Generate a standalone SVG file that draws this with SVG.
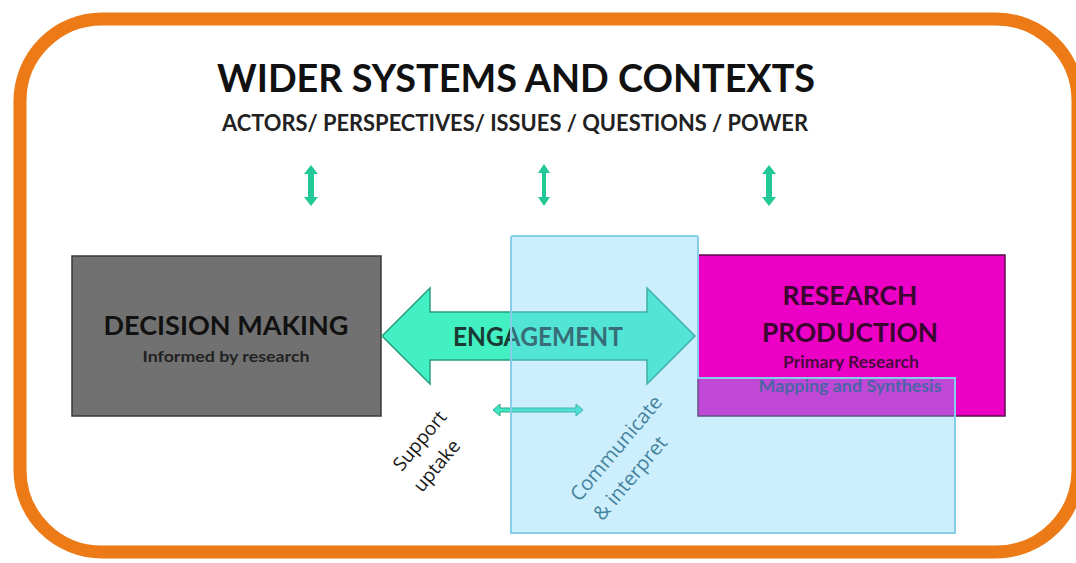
<svg xmlns="http://www.w3.org/2000/svg" width="1076" height="563" viewBox="0 0 1076 563">
<style>
.t{font-family:Lato,"Open Sans","Liberation Sans",sans-serif;font-weight:bold;text-anchor:middle}
.va{fill:#22c896}
.lbl{font-family:"Open Sans",Lato,"Liberation Sans",sans-serif;text-anchor:middle;font-size:19px}
</style>
<rect width="1076" height="563" fill="#ffffff"/>
<g id="frame">
<rect x="20" y="19" width="1058" height="533" rx="82" ry="82" fill="#ffffff" stroke="#ec7a16" stroke-width="13"/>
</g>
<g id="title">
<text class="t" x="516" y="92" font-size="38" fill="#111" textLength="598" lengthAdjust="spacingAndGlyphs">WIDER SYSTEMS AND CONTEXTS</text>
<text class="t" x="515" y="131" font-size="22" fill="#222" textLength="586" lengthAdjust="spacingAndGlyphs">ACTORS/ PERSPECTIVES/ ISSUES / QUESTIONS / POWER</text>
</g>
<g id="connectors">
<path class="va" d="M311,165 L318,174 L314,174 L314,197 L318,197 L311,206 L304,197 L308,197 L308,174 L304,174 Z"/>
<path class="va" d="M544,164 L550,173 L546,173 L546,197 L550,197 L544,206 L538,197 L542,197 L542,173 L538,173 Z"/>
<path class="va" d="M769,165 L776,174 L772,174 L772,197 L776,197 L769,206 L762,197 L766,197 L766,174 L762,174 Z"/>
<path d="M493,410 L500,404 L500,408 L576,408 L576,404 L583,410 L576,416 L576,412 L500,412 L500,416 Z" fill="#40e8c4" stroke="#2aa88a" stroke-width="1"/>
</g>
<g id="decision">
<rect x="72" y="256" width="309" height="160" fill="#717171" stroke="#3a3a3a" stroke-width="1.5"/>
<text class="t" x="226" y="335" font-size="27" fill="#111" textLength="245" lengthAdjust="spacingAndGlyphs">DECISION MAKING</text>
<text class="t" x="226" y="362" font-size="16" fill="#222" textLength="167" lengthAdjust="spacingAndGlyphs">Informed by research</text>
</g>
<g id="engagement">
<path d="M382,336 L430,288 L430,312 L647,312 L647,288 L695,336 L647,384 L647,360 L430,360 L430,384 Z" fill="#42f0c2" stroke="#2a9d80" stroke-width="1.5"/>
<text class="t" x="538" y="346" font-size="26" fill="#1a3a34" textLength="170" lengthAdjust="spacingAndGlyphs">ENGAGEMENT</text>
</g>
<g id="research">
<rect x="698" y="255" width="307" height="161" fill="#ec00c6" stroke="#5a1048" stroke-width="1.5"/>
<text class="t" x="850" y="305" font-size="27" fill="#3a0630" textLength="135" lengthAdjust="spacingAndGlyphs">RESEARCH</text>
<text class="t" x="850" y="342" font-size="27" fill="#3a0630" textLength="176" lengthAdjust="spacingAndGlyphs">PRODUCTION</text>
<text class="t" x="851" y="368" font-size="17" fill="#4a0a40" textLength="136" lengthAdjust="spacingAndGlyphs">Primary Research</text>
<text class="t" x="850" y="392" font-size="17" fill="#3a2a7a" textLength="183" lengthAdjust="spacingAndGlyphs">Mapping and Synthesis</text>
</g>
<g id="labels">
<text class="lbl" fill="#1a1a1a" transform="translate(420,441) rotate(-50)" y="6">Support</text>
<text class="lbl" fill="#1a1a1a" transform="translate(437,466) rotate(-50)" y="6">uptake</text>
<text class="lbl" fill="#2e5a6e" transform="translate(616,448) rotate(-50)" y="7" style="font-size:20px">Communicate</text>
<text class="lbl" fill="#2e5a6e" transform="translate(630,478) rotate(-50)" y="7" style="font-size:20px">&amp; interpret</text>
</g>
<g id="overlay">
<path d="M511,238 Q511,236 513,236 L696,236 Q698,236 698,238 L698,378 L955,378 L955,533 L511,533 Z" fill="#70cef6" fill-opacity="0.35" stroke="#86cdea" stroke-width="2"/>
</g>
</svg>
